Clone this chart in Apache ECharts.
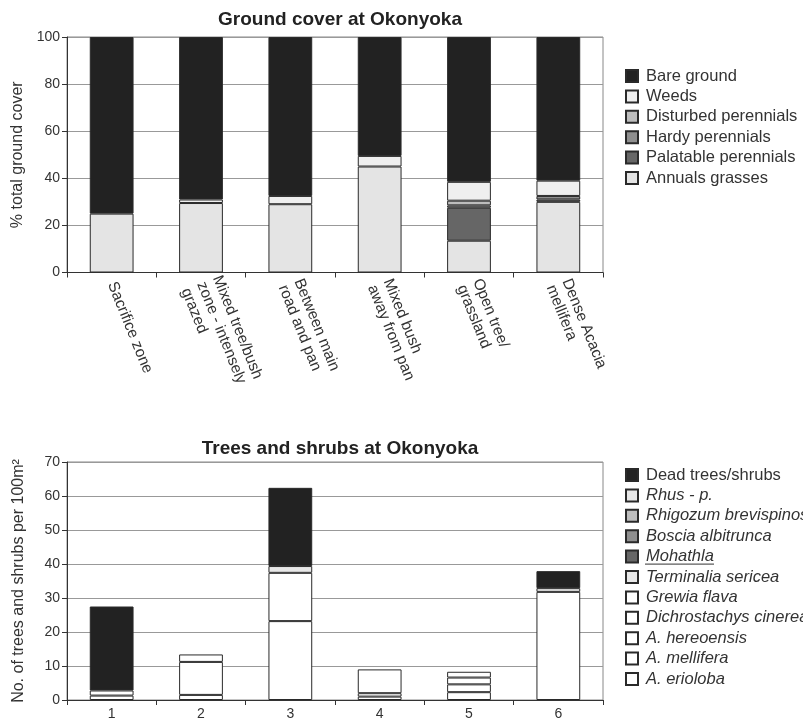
<!DOCTYPE html>
<html><head><meta charset="utf-8">
<script src="https://cdn.jsdelivr.net/npm/echarts@6/dist/echarts.min.js"></script>
<style>html,body{margin:0;padding:0;background:#fff}#c{width:803px;height:723px}</style>
</head><body><div id="c"></div>
<script>
// ---- Ground cover (top chart) ----
const coverCats = ['Sacrifice zone', 'Mixed tree/bush\nzone - intensely\ngrazed', 'Between main\nroad and pan', 'Mixed bush\naway from pan', 'Open tree/\ngrassland', 'Dense Acacia\nmellifera'];
const annuals   = [25, 29.5, 29, 45, 13.5, 30];
const palatable = [0, 0, 0, 0, 14, 1];
const hardy     = [0, 0, 0, 0, 1, 1.5];
const disturbed = [0, 0, 0, 0, 2, 0];
const weeds     = [0, 1.5, 3.5, 4.5, 8, 6.5];
const bare      = [75, 69, 67.5, 50.5, 61.5, 61];
const coverTicks = [0, 20, 40, 60, 80, 100];

// ---- Trees and shrubs (bottom chart) ----
const treeCats = ['1', '2', '3', '4', '5', '6'];
const erioloba      = [0, 0, 0, 1, 2.3, 0];
const mellifera     = [1.3, 1.5, 23.2, 1, 2.3, 31.8];
const hereoensis    = [0, 0, 0, 0, 2, 0];
const dichrostachys = [1.5, 9.7, 14.2, 7, 1.7, 0];
const grewia        = [0, 2.2, 0, 0, 0, 0];
const terminalia    = [0, 0, 2, 0, 0, 1.1];
const mohathla      = [0, 0, 0, 0, 0, 0];
const boscia        = [0, 0, 0, 0, 0, 0];
const rhigozum      = [0, 0, 0, 0, 0, 0];
const rhus          = [0, 0, 0, 0, 0, 0];
const dead          = [24.7, 0, 23, 0, 0, 5];
const treeTicks = [0, 10, 20, 30, 40, 50, 60, 70];

const FONT = 'Liberation Sans, Arial, sans-serif';
const chart = echarts.init(document.getElementById('c'), null, {renderer: 'canvas'});

function bar(name, data, color, xi, stack) {
  return {
    name, type: 'bar', stack, data: data.map(v => v === 0 ? '-' : v),
    xAxisIndex: xi, yAxisIndex: xi, barWidth: '49%',
    itemStyle: {color, borderColor: '#2a2a2a', borderWidth: 1},
    emphasis: {disabled: true}, animation: false
  };
}

const topSeries = [
  bar('Annuals grasses', annuals, '#e4e4e4', 0, 'a'),
  bar('Palatable perennials', palatable, '#666666', 0, 'a'),
  bar('Hardy perennials', hardy, '#8f8f8f', 0, 'a'),
  bar('Disturbed perennials', disturbed, '#bdbdbd', 0, 'a'),
  bar('Weeds', weeds, '#efefef', 0, 'a'),
  bar('Bare ground', bare, '#222222', 0, 'a')
];
const botSeries = [
  bar('A. erioloba', erioloba, '#ffffff', 1, 'b'),
  bar('A. mellifera', mellifera, '#ffffff', 1, 'b'),
  bar('A. hereoensis', hereoensis, '#ffffff', 1, 'b'),
  bar('Dichrostachys cinerea', dichrostachys, '#ffffff', 1, 'b'),
  bar('Grewia flava', grewia, '#ffffff', 1, 'b'),
  bar('Terminalia sericea', terminalia, '#e8e8e8', 1, 'b'),
  bar('Mohathla', mohathla, '#666666', 1, 'b'),
  bar('Boscia albitrunca', boscia, '#8f8f8f', 1, 'b'),
  bar('Rhigozum brevispinosum', rhigozum, '#bdbdbd', 1, 'b'),
  bar('Rhus - p.', rhus, '#e8e8e8', 1, 'b'),
  bar('Dead trees/shrubs', dead, '#222222', 1, 'b')
];

const legendText = {fontFamily: FONT, fontSize: 16.5, color: '#333', lineHeight: 17, padding: [0, 0, 0, 3]};
const it = n => ({name: n, textStyle: {fontStyle: 'italic'}});
const ROW = 20.4;

const option = {
  backgroundColor: '#fff',
  animation: false,
  title: [
    {text: 'Ground cover at Okonyoka', left: 335, top: 5, textAlign: 'center',
     textStyle: {fontFamily: FONT, fontSize: 19, fontWeight: 'bold', color: '#222'}},
    {text: 'Trees and shrubs at Okonyoka', left: 335, top: 434, textAlign: 'center',
     textStyle: {fontFamily: FONT, fontSize: 19, fontWeight: 'bold', color: '#222'}}
  ],
  legend: [
    {orient: 'vertical', left: 625, top: 67.5, padding: 0, itemWidth: 12, itemHeight: 12, itemGap: ROW - 17,
     icon: 'rect', textStyle: legendText, selectedMode: false,
     data: ['Bare ground', 'Weeds', 'Disturbed perennials', 'Hardy perennials', 'Palatable perennials', 'Annuals grasses']},
    {orient: 'vertical', left: 625, top: 466.5, padding: 0, itemWidth: 12, itemHeight: 12, itemGap: ROW - 17,
     icon: 'rect', textStyle: legendText, selectedMode: false,
     data: ['Dead trees/shrubs', it('Rhus - p.'), it('Rhigozum brevispinosum'), it('Boscia albitrunca'), it('Mohathla'),
            it('Terminalia sericea'), it('Grewia flava'), it('Dichrostachys cinerea'), it('A. hereoensis'), it('A. mellifera'), it('A. erioloba')]}
  ],
  grid: [
    {left: 67, width: 536, top: 37, height: 235.5, show: true, borderColor: '#888', borderWidth: 1},
    {left: 67, width: 536, top: 462, height: 238, show: true, borderColor: '#888', borderWidth: 1}
  ],
  xAxis: [
    {type: 'category', gridIndex: 0, data: coverCats,
     axisLine: {lineStyle: {color: '#333'}},
     axisTick: {show: true, length: 5, alignWithLabel: false, lineStyle: {color: '#333'}},
     axisLabel: {rotate: -68, margin: 10, fontFamily: FONT, fontSize: 15.5, color: '#333', lineHeight: 17, interval: 0}},
    {type: 'category', gridIndex: 1, data: treeCats,
     axisLine: {lineStyle: {color: '#333'}},
     axisTick: {show: true, length: 5, alignWithLabel: false, lineStyle: {color: '#333'}},
     axisLabel: {margin: 7, fontFamily: FONT, fontSize: 14, color: '#333', interval: 0}}
  ],
  yAxis: [
    {type: 'value', gridIndex: 0, min: coverTicks[0], max: coverTicks[coverTicks.length - 1], interval: 20,
     name: '% total ground cover', nameLocation: 'middle', nameGap: 40,
     nameTextStyle: {fontFamily: FONT, fontSize: 16, color: '#333'},
     axisLine: {show: true, lineStyle: {color: '#333'}},
     axisTick: {show: true, length: 5, lineStyle: {color: '#333'}},
     axisLabel: {margin: 7, fontFamily: FONT, fontSize: 14, color: '#333'},
     splitLine: {lineStyle: {color: '#999', width: 1}}},
    {type: 'value', gridIndex: 1, min: treeTicks[0], max: treeTicks[treeTicks.length - 1], interval: 10,
     name: 'No. of trees and shrubs per 100m²', nameLocation: 'middle', nameGap: 40,
     nameTextStyle: {fontFamily: FONT, fontSize: 16, color: '#333'},
     axisLine: {show: true, lineStyle: {color: '#333'}},
     axisTick: {show: true, length: 5, lineStyle: {color: '#333'}},
     axisLabel: {margin: 7, fontFamily: FONT, fontSize: 14, color: '#333'},
     splitLine: {lineStyle: {color: '#999', width: 1}}}
  ],
  series: topSeries.concat(botSeries)
};
chart.setOption(option);

// underline under the "Mohathla" legend label
const mohRow = 4;
const uy = 466.5 + mohRow * ROW + 16;
chart.setOption({graphic: [{type: 'line', silent: true,
  shape: {x1: 645, y1: uy, x2: 714, y2: uy},
  style: {stroke: '#333', lineWidth: 1}}]});
</script>
</body></html>
